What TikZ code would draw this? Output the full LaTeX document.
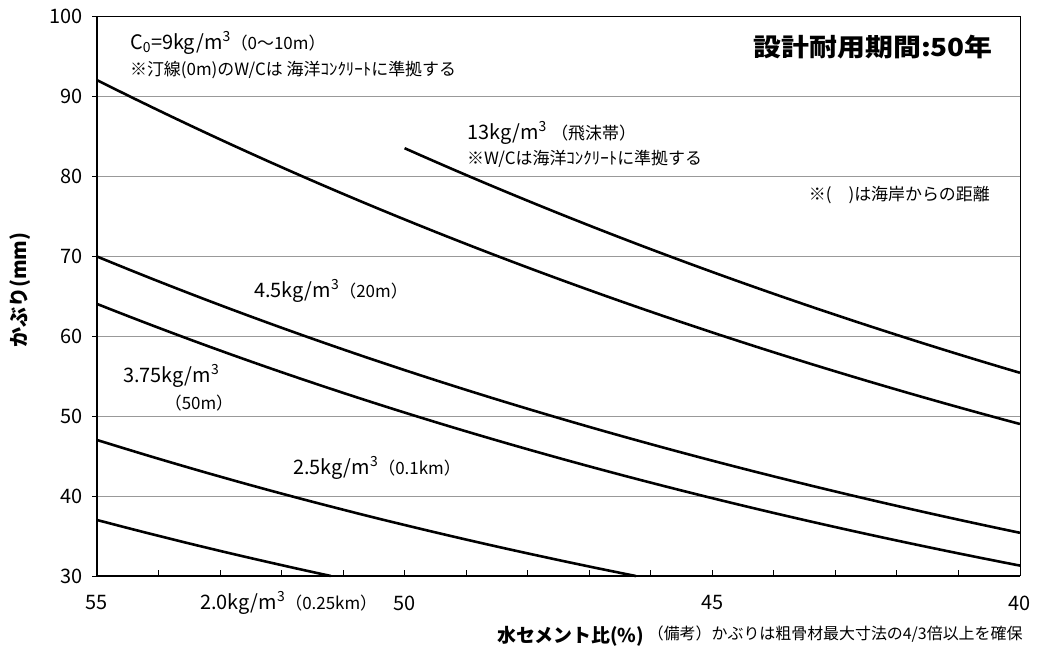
\documentclass[tikz,border=0pt]{standalone}
\usepackage{fontspec}
\setmainfont{Noto Sans CJK JP}
\usepackage{tikz}
\newcommand{\curvewidth}{2.6pt}
\newcommand{\tickfont}{\fontsize{20}{24}\selectfont}
\newcommand{\notefont}{\fontsize{17}{20}\selectfont}
\newcommand{\parenfont}{\fontsize{17}{20}\selectfont}
\tikzset{
  curve/.style={line width=\curvewidth, black},
  gridline/.style={gray!80, line width=0.8pt},
  label/.style={inner sep=0pt, anchor=west, font=\tickfont},
  note/.style={inner sep=0pt, anchor=west, font=\notefont},
}

\begin{document}
\begin{tikzpicture}[x=-61.533bp, y=8bp]
    \useasboundingbox (56.576,20.375) rectangle (39.447,102);

      % grid and frame
      \foreach \c in {40,50,...,90}
        \draw[gridline] (55,\c) -- (40,\c);
      \draw[line width=0.8pt] (55,100) -- (40,100) -- (40,30);
      \foreach \w in {41,...,54}
        \draw[line width=0.8pt] (\w,30) -- (\w,30.7);
      \foreach \c in {30,40,...,100}
        \draw[line width=0.8pt] (55,\c) -- (55.08,\c);
      \draw[line width=1.6pt] (55,100) -- (55,30) -- (40,30);

      % tick labels
      \foreach \c in {30,40,...,100}
        \node (y\c) at (55.228,\c) [label, anchor=east] {\c};
      \foreach \w in {55,50,45,40}
        \node (x\w) at (\w,26.625) [label, anchor=center] {\w};

      % curves
      \draw[curve] plot[domain=40:50, samples=40] (\x, {55.4*exp(0.041*(\x-40))});
      \draw[curve] plot[domain=40:55, samples=50] (\x, {49*exp(0.04199*(\x-40))});
      \draw[curve] plot[domain=40:55, samples=50] (\x, {35.4*exp(0.0454*(\x-40))});
      \draw[curve] plot[domain=40:55, samples=50] (\x, {31.3*exp(0.0477*(\x-40))});
      \draw[curve] plot[domain=46.24:55, samples=40] (\x, {47*exp(-0.0513*(55-\x))});
      \draw[curve] plot[domain=51.2:55, samples=20] (\x, {37*exp(-0.0552*(55-\x))});

      % curve labels
      \node (c9) at (54.464,96.625) [label] {C\textsubscript{0}=9kg/m\textsuperscript{3}{\parenfont（0～10m）}};
      \node (n9) at (54.464,93.25) [note] {※汀線(0m)のW/Cは 海洋ｺﾝｸﾘｰﾄに準拠する};
      \node (c13) at (48.987,85.375) [label] {13kg/m\textsuperscript{3} {\parenfont（飛沫帯）}};
      \node (n13) at (48.987,82.125) [note] {※W/Cは海洋ｺﾝｸﾘｰﾄに準拠する};
      \node (dist) at (40.487,77.625) [note, anchor=east] {※(\quad )は海岸からの距離};
      \node (c45) at (52.449,65.625) [label] {4.5kg/m\textsuperscript{3}{\parenfont（20m）}};
      \node (c375) at (54.577,55) [label] {3.75kg/m\textsuperscript{3}};
      \node (d375) at (53.9,51.625) [note, font=\parenfont] {（50m）};
      \node (c25) at (51.815,43.5) [label] {2.5kg/m\textsuperscript{3}{\parenfont（0.1km）}};
      \node (c20) at (53.326,26.625) [label] {2.0kg/m\textsuperscript{3}{\parenfont（0.25km）}};

      % titles
      \node (title) at (40.438,96.125) [inner sep=0pt, anchor=east, font=\fontsize{25}{28}\selectfont\bfseries] {\scalebox{1.12}[1]{設計耐用期間:50年}};
      \node (ylab) at (56.251,65.75) [inner sep=0pt, rotate=90, font=\fontsize{20}{24}\selectfont\bfseries] {かぶり(mm)};
      \node (xlab) at (48.5,22.5) [inner sep=0pt, anchor=west, font=\fontsize{19}{22}\selectfont\bfseries] {水セメント比(\%)};
      \node (memo) at (46.05,22.75) [note, font=\fontsize{16}{19}\selectfont] {（備考）かぶりは粗骨材最大寸法の4/3倍以上を確保};

  \end{tikzpicture}
\end{document}
